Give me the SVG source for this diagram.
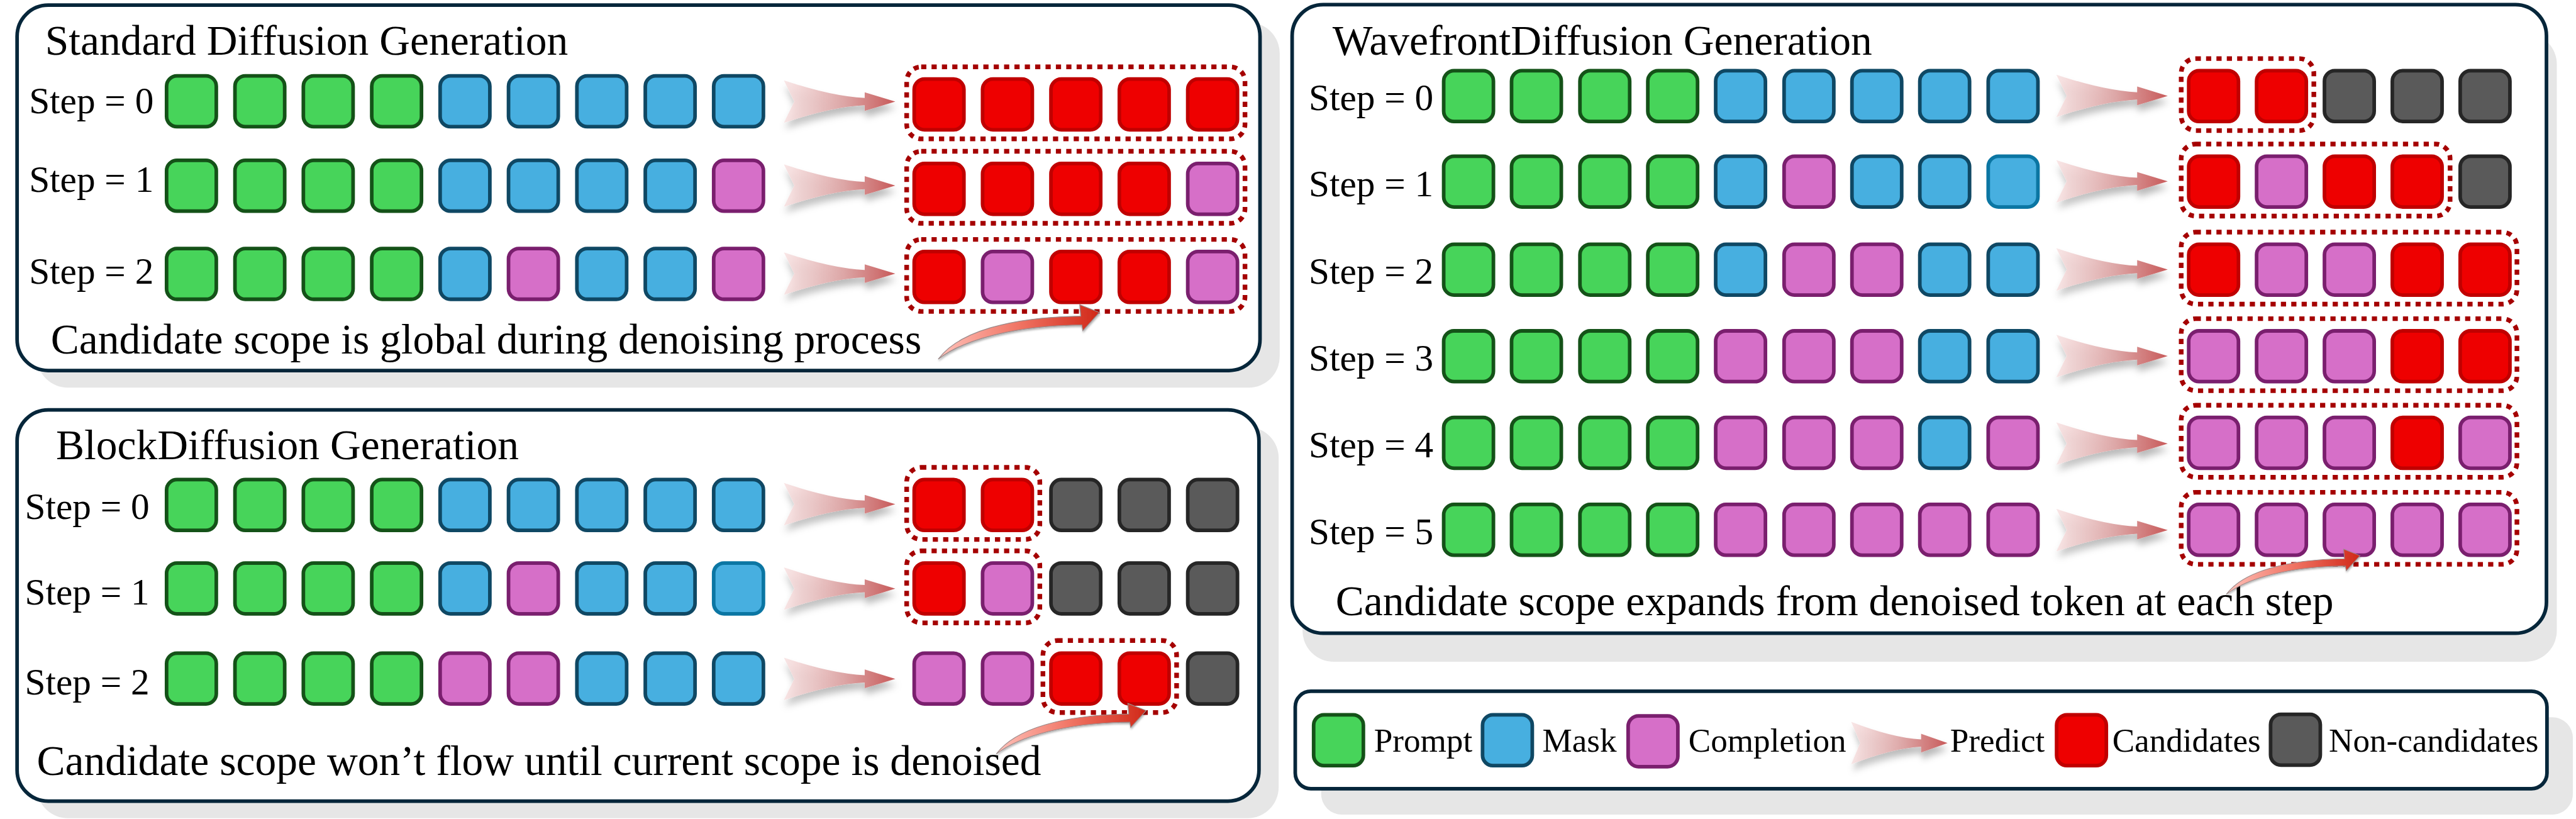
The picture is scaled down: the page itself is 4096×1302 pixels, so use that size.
<svg xmlns="http://www.w3.org/2000/svg" xmlns:xlink="http://www.w3.org/1999/xlink" width="4096" height="1302" viewBox="0 0 4096 1302">
<defs>
<style>
text{font-family:"Liberation Serif","Times New Roman",serif;fill:#000}
.t{font-size:82px}
.s{font-size:72px}
.l{font-size:64.5px}
.panel{fill:#fff;stroke:#06263a;stroke-width:7}
.shadow{fill:#e6e6e6}
.frame{fill:none;stroke:#a50000;stroke-width:9;stroke-dasharray:10 10}
</style>
<linearGradient id="predGrad" x1="0" y1="0" x2="1" y2="0">
<stop offset="0" stop-color="#f7dede" stop-opacity="0.75"/>
<stop offset="0.55" stop-color="#dca4a4"/>
<stop offset="1" stop-color="#c85a5a"/>
</linearGradient>
<linearGradient id="curveGrad" x1="0" y1="0" x2="1" y2="0">
<stop offset="0" stop-color="#ffc2ba"/>
<stop offset="0.5" stop-color="#f07464"/>
<stop offset="1" stop-color="#d02818"/>
</linearGradient>
<filter id="predShadow" x="-20%" y="-40%" width="140%" height="200%">
<feDropShadow dx="2" dy="12" stdDeviation="7" flood-color="#000" flood-opacity="0.28"/>
</filter>
<filter id="curveShadow" x="-20%" y="-30%" width="140%" height="160%">
<feDropShadow dx="1" dy="3" stdDeviation="2" flood-color="#000" flood-opacity="0.3"/>
</filter>
<rect id="G" x="3.5" y="3.5" width="96" height="98" rx="20" fill="#47d45a" stroke="#145218" stroke-width="7"/>
<rect id="B" x="3.5" y="3.5" width="96" height="98" rx="20" fill="#47afe0" stroke="#0f4864" stroke-width="7"/>
<rect id="T" x="3.5" y="3.5" width="96" height="98" rx="20" fill="#47afe0" stroke="#0b76a3" stroke-width="7"/>
<rect id="P" x="3.5" y="3.5" width="96" height="98" rx="20" fill="#d66fc8" stroke="#7a1f6e" stroke-width="7"/>
<rect id="R" x="3.5" y="3.5" width="96" height="98" rx="20" fill="#ee0000" stroke="#c00000" stroke-width="7"/>
<rect id="K" x="3.5" y="3.5" width="96" height="98" rx="20" fill="#5a5a5a" stroke="#262626" stroke-width="7"/>
<path id="pa" d="M -215 -41 Q -123 -10 -59 -7 L -59 -18 L 0 0 L -59 18 L -59 7 Q -123 10 -215 41 L -195 0 Z" fill="url(#predGrad)" filter="url(#predShadow)"/>
<path id="ca" d="M 0 0 C 39 -53 139 -81 275 -83 L 273 -105 L 311 -90 L 279 -55 L 277 -66 C 149 -65 49 -38 0 0 Z" fill="url(#curveGrad)" stroke="#9a8a8a" stroke-width="1.5" filter="url(#curveShadow)"/>
</defs>
<rect width="4096" height="1302" fill="#fff"/>
<g transform="scale(0.82381)">

<!-- Standard panel -->
<g id="standard">
<rect class="shadow" x="71" y="43" width="2399" height="705" rx="60"/>
<rect class="panel" x="33" y="10" width="2399" height="705" rx="60"/>
<text class="t" x="87" y="105">Standard Diffusion Generation</text>
<g id="std-step0">
<text class="s" x="56" y="218">Step = 0</text>
<use href="#G" x="318" y="143"/><use href="#G" x="450" y="143"/><use href="#G" x="582" y="143"/><use href="#G" x="714" y="143"/>
<use href="#B" x="846" y="143"/><use href="#B" x="978" y="143"/><use href="#B" x="1110" y="143"/><use href="#B" x="1242" y="143"/><use href="#B" x="1374" y="143"/>
<use href="#R" x="1761" y="149"/><use href="#R" x="1893" y="149"/><use href="#R" x="2025" y="149"/><use href="#R" x="2157" y="149"/><use href="#R" x="2289" y="149"/>
<rect class="frame" x="1750" y="129" width="653" height="139" rx="28"/>
</g>
<g id="std-step1">
<text class="s" x="56" y="370">Step = 1</text>
<use href="#G" x="318" y="306"/><use href="#G" x="450" y="306"/><use href="#G" x="582" y="306"/><use href="#G" x="714" y="306"/>
<use href="#B" x="846" y="306"/><use href="#B" x="978" y="306"/><use href="#B" x="1110" y="306"/><use href="#B" x="1242" y="306"/><use href="#P" x="1374" y="306"/>
<use href="#R" x="1761" y="312"/><use href="#R" x="1893" y="312"/><use href="#R" x="2025" y="312"/><use href="#R" x="2157" y="312"/><use href="#P" x="2289" y="312"/>
<rect class="frame" x="1750" y="292" width="653" height="139" rx="28"/>
</g>
<g id="std-step2">
<text class="s" x="56" y="548">Step = 2</text>
<use href="#G" x="318" y="476"/><use href="#G" x="450" y="476"/><use href="#G" x="582" y="476"/><use href="#G" x="714" y="476"/>
<use href="#B" x="846" y="476"/><use href="#P" x="978" y="476"/><use href="#B" x="1110" y="476"/><use href="#B" x="1242" y="476"/><use href="#P" x="1374" y="476"/>
<use href="#R" x="1761" y="482"/><use href="#P" x="1893" y="482"/><use href="#R" x="2025" y="482"/><use href="#R" x="2157" y="482"/><use href="#P" x="2289" y="482"/>
<rect class="frame" x="1750" y="462" width="653" height="139" rx="28"/>
</g>
<text class="t" x="98" y="682">Candidate scope is global during denoising process</text>
</g>

<!-- Block panel -->
<g id="block">
<rect class="shadow" x="71" y="824" width="2397" height="755" rx="60"/>
<rect class="panel" x="33" y="791" width="2397" height="755" rx="60"/>
<text class="t" x="108" y="886">BlockDiffusion Generation</text>
<g id="blk-step0">
<text class="s" x="48" y="1002">Step = 0</text>
<use href="#G" x="318" y="922"/><use href="#G" x="450" y="922"/><use href="#G" x="582" y="922"/><use href="#G" x="714" y="922"/>
<use href="#B" x="846" y="922"/><use href="#B" x="978" y="922"/><use href="#B" x="1110" y="922"/><use href="#B" x="1242" y="922"/><use href="#B" x="1374" y="922"/>
<use href="#R" x="1761" y="922"/><use href="#R" x="1893" y="922"/><use href="#K" x="2025" y="922"/><use href="#K" x="2157" y="922"/><use href="#K" x="2289" y="922"/>
<rect class="frame" x="1750" y="902" width="257" height="139" rx="28"/>
</g>
<g id="blk-step1">
<text class="s" x="48" y="1166">Step = 1</text>
<use href="#G" x="318" y="1083"/><use href="#G" x="450" y="1083"/><use href="#G" x="582" y="1083"/><use href="#G" x="714" y="1083"/>
<use href="#B" x="846" y="1083"/><use href="#P" x="978" y="1083"/><use href="#B" x="1110" y="1083"/><use href="#B" x="1242" y="1083"/><use href="#T" x="1374" y="1083"/>
<use href="#R" x="1761" y="1083"/><use href="#P" x="1893" y="1083"/><use href="#K" x="2025" y="1083"/><use href="#K" x="2157" y="1083"/><use href="#K" x="2289" y="1083"/>
<rect class="frame" x="1750" y="1063" width="257" height="139" rx="28"/>
</g>
<g id="blk-step2">
<text class="s" x="48" y="1340">Step = 2</text>
<use href="#G" x="318" y="1257"/><use href="#G" x="450" y="1257"/><use href="#G" x="582" y="1257"/><use href="#G" x="714" y="1257"/>
<use href="#P" x="846" y="1257"/><use href="#P" x="978" y="1257"/><use href="#B" x="1110" y="1257"/><use href="#B" x="1242" y="1257"/><use href="#B" x="1374" y="1257"/>
<use href="#P" x="1761" y="1257"/><use href="#P" x="1893" y="1257"/><use href="#R" x="2025" y="1257"/><use href="#R" x="2157" y="1257"/><use href="#K" x="2289" y="1257"/>
<rect class="frame" x="2013" y="1236" width="258" height="139" rx="28"/>
</g>
<text class="t" x="71" y="1495">Candidate scope won’t flow until current scope is denoised</text>
</g>

<!-- Wavefront panel -->
<g id="wavefront">
<rect class="shadow" x="2514" y="64" width="2421" height="1213" rx="60"/>
<rect class="panel" x="2494" y="9" width="2421" height="1213" rx="60"/>
<text class="t" x="2572" y="105">WavefrontDiffusion Generation</text>
<g id="wf-step0">
<text class="s" x="2526" y="213">Step = 0</text>
<use href="#G" x="2783" y="133"/><use href="#G" x="2914" y="133"/><use href="#G" x="3046" y="133"/><use href="#G" x="3177" y="133"/>
<use href="#B" x="3308" y="133"/><use href="#B" x="3440" y="133"/><use href="#B" x="3571" y="133"/><use href="#B" x="3702" y="133"/><use href="#B" x="3834" y="133"/>
<use href="#R" x="4221" y="133"/><use href="#R" x="4352" y="133"/><use href="#K" x="4483" y="133"/><use href="#K" x="4614" y="133"/><use href="#K" x="4745" y="133"/>
<rect class="frame" x="4210" y="113" width="256" height="139" rx="28"/>
</g>
<g id="wf-step1">
<text class="s" x="2526" y="379">Step = 1</text>
<use href="#G" x="2783" y="298"/><use href="#G" x="2914" y="298"/><use href="#G" x="3046" y="298"/><use href="#G" x="3177" y="298"/>
<use href="#B" x="3308" y="298"/><use href="#P" x="3440" y="298"/><use href="#B" x="3571" y="298"/><use href="#B" x="3702" y="298"/><use href="#T" x="3834" y="298"/>
<use href="#R" x="4221" y="298"/><use href="#P" x="4352" y="298"/><use href="#R" x="4483" y="298"/><use href="#R" x="4614" y="298"/><use href="#K" x="4745" y="298"/>
<rect class="frame" x="4210" y="278" width="519" height="139" rx="28"/>
</g>
<g id="wf-step2">
<text class="s" x="2526" y="548">Step = 2</text>
<use href="#G" x="2783" y="468"/><use href="#G" x="2914" y="468"/><use href="#G" x="3046" y="468"/><use href="#G" x="3177" y="468"/>
<use href="#B" x="3308" y="468"/><use href="#P" x="3440" y="468"/><use href="#P" x="3571" y="468"/><use href="#B" x="3702" y="468"/><use href="#B" x="3834" y="468"/>
<use href="#R" x="4221" y="468"/><use href="#P" x="4352" y="468"/><use href="#P" x="4483" y="468"/><use href="#R" x="4614" y="468"/><use href="#R" x="4745" y="468"/>
<rect class="frame" x="4210" y="448" width="648" height="139" rx="28"/>
</g>
<g id="wf-step3">
<text class="s" x="2526" y="715">Step = 3</text>
<use href="#G" x="2783" y="635"/><use href="#G" x="2914" y="635"/><use href="#G" x="3046" y="635"/><use href="#G" x="3177" y="635"/>
<use href="#P" x="3308" y="635"/><use href="#P" x="3440" y="635"/><use href="#P" x="3571" y="635"/><use href="#B" x="3702" y="635"/><use href="#B" x="3834" y="635"/>
<use href="#P" x="4221" y="635"/><use href="#P" x="4352" y="635"/><use href="#P" x="4483" y="635"/><use href="#R" x="4614" y="635"/><use href="#R" x="4745" y="635"/>
<rect class="frame" x="4210" y="615" width="648" height="139" rx="28"/>
</g>
<g id="wf-step4">
<text class="s" x="2526" y="882">Step = 4</text>
<use href="#G" x="2783" y="802"/><use href="#G" x="2914" y="802"/><use href="#G" x="3046" y="802"/><use href="#G" x="3177" y="802"/>
<use href="#P" x="3308" y="802"/><use href="#P" x="3440" y="802"/><use href="#P" x="3571" y="802"/><use href="#B" x="3702" y="802"/><use href="#P" x="3834" y="802"/>
<use href="#P" x="4221" y="802"/><use href="#P" x="4352" y="802"/><use href="#P" x="4483" y="802"/><use href="#R" x="4614" y="802"/><use href="#P" x="4745" y="802"/>
<rect class="frame" x="4210" y="782" width="648" height="139" rx="28"/>
</g>
<g id="wf-step5">
<text class="s" x="2526" y="1050">Step = 5</text>
<use href="#G" x="2783" y="970"/><use href="#G" x="2914" y="970"/><use href="#G" x="3046" y="970"/><use href="#G" x="3177" y="970"/>
<use href="#P" x="3308" y="970"/><use href="#P" x="3440" y="970"/><use href="#P" x="3571" y="970"/><use href="#P" x="3702" y="970"/><use href="#P" x="3834" y="970"/>
<use href="#P" x="4221" y="970"/><use href="#P" x="4352" y="970"/><use href="#P" x="4483" y="970"/><use href="#P" x="4614" y="970"/><use href="#P" x="4745" y="970"/>
<rect class="frame" x="4210" y="950" width="648" height="139" rx="28"/>
</g>
<text class="t" x="2578" y="1187">Candidate scope expands from denoised token at each step</text>
</g>

<!-- Legend -->
<g id="legend">
<rect class="shadow" x="2550" y="1384" width="2416" height="188" rx="40"/>
<rect class="panel" x="2500" y="1334" width="2416" height="188" rx="30"/>
<use href="#G" x="2532" y="1376"/><text class="l" x="2652" y="1451">Prompt</text>
<use href="#B" x="2858" y="1376"/><text class="l" x="2977" y="1451">Mask</text>
<use href="#P" x="3139" y="1378"/><text class="l" x="3259" y="1451">Completion</text>
<use href="#pa" transform="translate(3759,1434) scale(0.865,1)"/><text class="l" x="3764" y="1451">Predict</text>
<use href="#R" x="3966" y="1376"/><text class="l" x="4077" y="1451">Candidates</text>
<use href="#K" x="4379" y="1375"/><text class="l" x="4495" y="1451">Non-candidates</text>
</g>

<!-- Connectors -->
<g id="connectors">
<use href="#pa" x="1728" y="196"/>
<use href="#pa" x="1728" y="358"/>
<use href="#pa" x="1728" y="528"/>
<use href="#pa" x="1728" y="973"/>
<use href="#pa" x="1728" y="1136"/>
<use href="#pa" x="1728" y="1310"/>
<use href="#pa" x="4184" y="185"/>
<use href="#pa" x="4184" y="350"/>
<use href="#pa" x="4184" y="520"/>
<use href="#pa" x="4184" y="687"/>
<use href="#pa" x="4184" y="856"/>
<use href="#pa" x="4184" y="1023"/>
<use href="#ca" transform="translate(1811,693)"/>
<use href="#ca" transform="translate(1923,1455) scale(0.93)"/>
<use href="#ca" transform="translate(4297,1147) scale(0.83)"/>
</g>
</g>
</svg>
